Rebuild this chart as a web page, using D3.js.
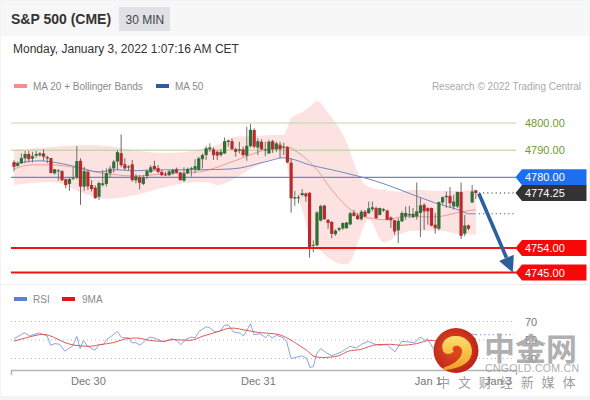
<!DOCTYPE html>
<html><head><meta charset="utf-8">
<script src="https://cdn.jsdelivr.net/npm/d3@7/dist/d3.min.js"></script>
<style>html,body{margin:0;padding:0;background:#fff}svg{display:block}text{font-family:"Liberation Sans",Arial,sans-serif}</style>
</head><body><svg id="c" width="590" height="400"></svg>
<script>
const title="S&P 500 (CME)", interval="30 MIN", stamp="Monday, January 3, 2022 1:07:16 AM CET", credit="Research © 2022 Trading Central";
const opens=[4785.6,4784.2,4785.2,4787,4788.6,4786.9,4788,4788.1,4788.8,4787,
4787.1,4781.5,4782.3,4782.3,4779.3,4777.6,4779.5,4780,4786.1,4776.6,
4782.1,4777.2,4776.2,4772.9,4777.2,4777.6,4781.5,4783.3,4785.8,4788.9,
4784.8,4783.7,4784.8,4778.9,4780,4777.6,4780.5,4781.9,4784.2,4783.4,
4782,4781.1,4780.8,4781.5,4783,4781.7,4778.8,4781.5,4783.2,4783,
4782.7,4786.7,4788.2,4790.3,4790.3,4789.4,4788.2,4788.8,4793,4793.3,
4790.4,4789.8,4790.3,4788,4791.5,4797.4,4791,4793.1,4789.9,4788.8,
4793.3,4790.3,4792,4791,4791.1,4785.4,4772.2,4772.3,4773.5,4774.1,
4774.3,4754.9,4755,4764.1,4769.6,4764.4,4763.6,4759.1,4760.7,4761.2,
4761.3,4762.7,4767,4766,4764.6,4767.4,4766.8,4768.3,4768.7,4766.2,
4767.8,4767.8,4765.3,4764.2,4760.5,4763.8,4765.6,4766,4765.4,4765.6,
4766.9,4769.9,4768.7,4768.7,4762.6,4761.1,4770.8,4772.7,4773.2,4769.3,
4769.3,4774.6,4759.3,4762.3,4770.8,4775.2];
const closes=[4783.9,4785.2,4787.1,4788.6,4786.7,4787.8,4788.6,4788.8,4787.6,4787.5,
4781.6,4783,4782.6,4778.9,4777.2,4779.4,4779.9,4786,4776.6,4782.3,
4776.7,4775.7,4772.4,4777.9,4777.8,4781.5,4783.2,4785.8,4789.3,4784.5,
4783.3,4784,4779,4780.4,4778,4780,4782.3,4783.7,4783.1,4782,
4780.8,4780.8,4782.2,4782.7,4781.7,4779,4781.5,4783.1,4783.4,4784.1,
4787,4788.2,4790.7,4791,4788.2,4788,4789.4,4793.3,4793.5,4790.4,
4789.4,4790.3,4788.2,4791.6,4797.5,4791.3,4793.3,4790.3,4790.3,4793.1,
4790.3,4792.5,4790.3,4791.3,4785.5,4772.3,4772.7,4772.7,4774.2,4773,
4754.4,4755.2,4767.1,4769.5,4764.6,4763.2,4759.2,4760.4,4761.3,4763.2,
4763.4,4766.8,4765.8,4764.6,4767.4,4765.6,4768.6,4769,4765,4768.7,
4768.3,4764.4,4764.2,4760.1,4764,4766.9,4766.9,4766.5,4766.6,4767.5,
4769.7,4767.5,4767.5,4762.2,4761.3,4770.9,4772.7,4773.2,4770.5,4771.1,
4774.6,4758.5,4762.3,4761.1,4774.8,4774.25];
const highs=[4786.3,4785.8,4788.8,4789.7,4789.7,4789.4,4789.7,4789.3,4790.3,4788,
4787.1,4783,4783,4782.7,4779.6,4780,4783.9,4791.5,4787,4783.9,
4782.7,4779,4777,4778.4,4782.7,4783.3,4784.2,4786.4,4790,4795.8,
4787,4784.5,4786.4,4781.2,4780.8,4780.8,4783,4784.5,4786.1,4784.5,
4782.7,4782.1,4782.7,4783.2,4783.6,4782.1,4783.7,4783.6,4783.9,4786.7,
4787.6,4788.8,4791.5,4792.5,4791,4790,4790.4,4794.7,4793.9,4794.3,
4790.9,4793.1,4791.3,4798.6,4799.6,4798,4794.3,4794,4793.1,4793.8,
4793.8,4793.1,4793.1,4792.7,4791.5,4787,4775,4773.5,4775.7,4774.4,
4774.6,4756.8,4767.5,4769.9,4769.9,4764.6,4763.9,4760.9,4761.7,4763.4,
4763.6,4767.4,4768,4766.8,4768,4768,4771.1,4771.1,4769.3,4768.9,
4768.7,4768.1,4765.6,4764.4,4765,4767.5,4769.3,4769.5,4768.7,4778.1,
4772.4,4770.5,4769,4768.9,4766.9,4771.1,4773,4774.8,4776.4,4773.6,
4774.8,4778.1,4766.2,4762.6,4777.2,4775.4];
const lows=[4782.3,4783.9,4784.9,4785.2,4785.6,4785.5,4787.2,4787.6,4786.1,4785.2,
4781.5,4781,4778.8,4778.7,4776,4775,4779,4779.3,4769.9,4775,
4775.4,4774.8,4772.1,4771.7,4776.6,4776.6,4780,4781.7,4782.7,4783.7,
4782.7,4782.7,4778.4,4777.8,4775.6,4777.2,4779.3,4781.5,4782.7,4781.5,
4780.5,4780.5,4780.5,4780.9,4781.5,4778.8,4778.4,4781.2,4780.3,4781.5,
4782.5,4783.3,4786.4,4789.4,4786.4,4786.4,4787.6,4788.6,4791.3,4790,
4787.6,4788.8,4787.6,4786.1,4791,4790.7,4788.2,4790,4787.8,4788.6,
4789,4789.4,4787.2,4788.2,4785.2,4767,4769.5,4770.5,4773,4771.1,
4750.5,4752.4,4754.6,4763.8,4764.4,4761.1,4757.6,4758.5,4760.1,4760.7,
4761.1,4762.4,4765.6,4764.4,4764.1,4765.3,4766.6,4767.5,4764.7,4766,
4767.3,4764.2,4761.4,4758.9,4755.8,4763.6,4764.4,4765,4765,4764.4,
4758,4760.7,4762.6,4762,4759.3,4760.5,4769.9,4768.7,4768.7,4768.1,
4768.7,4757.3,4758.3,4760.5,4770.5,4772];
const bandAt=[0,10,20,25,32,41,50,52,55,60,65,70,73,75,78,80,82,85,88,90,92,94,96,100,104,108,115,120,125];
const bandUpper=[4790.1,4791.2,4791.9,4791.6,4790.1,4789,4790.1,4790.8,4791.9,4794.9,4795.2,4795.6,4795.6,4801.8,4804,4805.9,4808.1,4803.7,4798.2,4793,4785.3,4779.1,4776.5,4775.4,4774.7,4775.4,4775,4775,4775.8];
const bandLower=[4777.2,4778.3,4773.6,4772.1,4773.2,4776.5,4778.3,4778.3,4777.2,4779.8,4783.9,4786.8,4787.2,4777.2,4768.1,4758.2,4754.5,4750.5,4748.3,4747.9,4751.6,4759.6,4764.4,4756,4758.9,4760.4,4760.4,4759.3,4758.9];
const ma20At=[0,5,10,17,23,28,32,41,50,59,68,74,77,82,86,92,96,101,105,114,121,125];
const ma20=[4783.1,4784.6,4784.6,4783.5,4781.7,4780.9,4780.5,4781.3,4782,4785.7,4790.1,4791.2,4789,4782.8,4775.4,4767.3,4765.1,4764.4,4765.5,4765.5,4767.3,4768.1];
const ma50At=[0,7,10,17,23,28,32,41,50,59,68,73,75,80,86,93,96,101,108,114,121,123,125];
const ma50=[4785,4786.1,4785.7,4783.9,4782,4782.8,4782.4,4782.8,4782.8,4783.1,4785.7,4787.2,4786.8,4784.6,4782.8,4780.5,4779.4,4777.2,4773.6,4770.6,4767.7,4766.6,4766.6];
const rsiAt=[0,1.6,2.8,4.2,5.5,6.9,8,9,9.9,11.1,12.3,13.8,15,15.9,17,17.9,18.8,19.8,21.9,23,24.2,25.1,26.4,28,29.1,31,32,33,34.1,35.6,36.8,38.6,40.4,42.7,44,45.2,46.7,48.1,49,50.1,52,53,54.4,55.7,56.9,58,59.4,61.2,62.1,64,65,66.6,68.1,68.8,69.9,71.1,72.9,73.8,75,77.9,79.2,80.1,81,81.9,83,84.6,86,88.7,90.9,92.7,94.1,95.9,97.3,98.6,100.9,103.1,104.9,108.5,109.9,111.2,111.9,113.5,117.1,120.7,123.9,125];
const rsi=[51.4,55,57.9,54.3,56.1,57.5,55.7,54.3,44.3,46.1,45.4,37.9,41.4,43.6,53.9,40.7,49.6,43.6,38.9,45,45,50.7,54.3,59.3,52.5,52.5,46.8,47.2,44.3,49.6,53.2,51.4,47.9,51.4,49.6,45,51.4,53.2,52.2,59.3,64.3,63.2,58.6,59.3,65.7,66.4,58.6,57.5,54.3,67.5,55.7,56.8,52.5,55.7,52.2,55,52.5,47.9,30,32.9,30,20.4,21.1,35.4,40.7,36.1,32.9,37.2,43.2,41.4,45.4,48.6,46.1,44.3,45,37.2,48.6,47.2,53.2,49.6,51.4,40.7,47.9,51.4,56.4,55.7];
const rsiMaAt=[0,3.4,8,10.6,13.8,16.5,20.6,23.3,26.9,30.5,33.2,36.8,40.4,43.1,47.6,51.2,54.8,58.9,63,66.6,71.1,73.8,77.4,79.2,81.5,83.7,87.8,90.5,93.7,98.2,101.8,104.5,109,112.6,117.1,123.9,125];
const rsiMa=[48.9,52.5,56.1,53.2,47.2,44.3,43.2,45,47.2,51.4,52.2,49.6,48.6,50.4,49.6,54.3,58.6,62.9,60.4,57.9,56.4,52.5,43.6,38.9,31.8,31.1,32.9,37.9,39.7,45,45.4,44.3,46.1,49.6,47.9,51.4,51.4];
const supportLevels=[4800,4790], pivotLevel=4780, lastPrice=4774.25, targets=[4754,4745];
const rsiTicks=[70,50,30];
const dayTicks=[20,66,112,131], dayLabels=["Dec 30","Dec 31","Jan 1","Jan 3"];
const arrowEndAt=135;
const legendTop=["MA 20 + Bollinger Bands","MA 50"], legendRsi=["RSI","9MA"];

const svg=d3.select("#c");
const x=d3.scaleLinear().domain([0,136]).range([14,516.5]);
const y=d3.scaleLinear().domain([4745,4800]).range([272.5,123]);
const ry=d3.scaleLinear().domain([30,70]).range([358.5,321.5]);
const txt=(px,py,s,size,fill,extra={})=>{const t=svg.append("text").attr("x",px).attr("y",py).attr("font-size",size).attr("fill",fill).text(s);for(const k in extra)t.attr(k,extra[k]);return t;};

// frame
svg.append("rect").attr("width",590).attr("height",400).attr("fill","#f3f4f5");
svg.append("rect").attr("x",1).attr("y",36).attr("width",588).attr("height",360).attr("fill","#fff");
svg.append("rect").attr("x",1).attr("y",1).attr("width",588).attr("height",35).attr("fill","#f7f7f7");
svg.append("rect").attr("x",119).attr("y",7).attr("width",51).attr("height",24).attr("fill","#dfe1e7");
txt(11,24,title,14,"#333",{"font-weight":"bold"});
txt(125.5,24,interval,12,"#444");
txt(13,53,stamp,12,"#333");
// legend
svg.append("rect").attr("x",14).attr("y",84).attr("width",13).attr("height",4).attr("fill","#f98b8b");
txt(33,90,legendTop[0],10,"#8a8a8a");
svg.append("rect").attr("x",156).attr("y",84).attr("width",13).attr("height",4).attr("fill","#2f5c9e");
txt(175,90,legendTop[1],10,"#8a8a8a");
txt(581,90,credit,10,"#a9a9a9",{"text-anchor":"end"});
svg.append("line").attr("x1",1).attr("x2",589).attr("y1",284.5).attr("y2",284.5).attr("stroke","#ececec");

// Bollinger band
const bandPts=bandAt.map((d,i)=>({i:d,u:bandUpper[i],l:bandLower[i]}));
svg.append("path").datum(bandPts).attr("fill","#fde2e2")
  .attr("d",d3.area().x(d=>x(d.i)).y0(d=>y(d.l)).y1(d=>y(d.u)).curve(d3.curveMonotoneX));

// levels
const lv=(v,c,w,end=516)=>svg.append("line").attr("x1",11).attr("x2",end).attr("y1",y(v)).attr("y2",y(v)).attr("stroke",c).attr("stroke-width",w);
supportLevels.forEach((v,i)=>{lv(v,i?"#aed08f":"#bcd9a0",1);txt(525,y(v)+4,v.toFixed(2),11,"#6f9a2e");});
lv(pivotLevel,"#5f8bd6",1.3);

// MAs
const line=d3.line().x(d=>x(d[0])).y(d=>y(d[1])).curve(d3.curveMonotoneX);
svg.append("path").attr("d",line(ma20At.map((d,i)=>[d,ma20[i]]))).attr("fill","none").attr("stroke","#f19a9a").attr("stroke-width",1);
svg.append("path").attr("d",line(ma50At.map((d,i)=>[d,ma50[i]]))).attr("fill","none").attr("stroke","#7389ba").attr("stroke-width",1);

// candles
const idx=d3.range(opens.length);
svg.append("g").selectAll("line").data(idx).join("line")
  .attr("x1",i=>x(i)).attr("x2",i=>x(i)).attr("y1",i=>y(highs[i])).attr("y2",i=>y(lows[i]))
  .attr("stroke",i=>closes[i]>=opens[i]?"#66756a":"#7a5f5f").attr("stroke-width",1);
svg.append("g").selectAll("rect").data(idx).join("rect")
  .attr("x",i=>x(i)-1.6).attr("width",3.2)
  .attr("y",i=>y(Math.max(opens[i],closes[i])))
  .attr("height",i=>Math.max(1,Math.abs(y(opens[i])-y(closes[i]))))
  .attr("fill",i=>closes[i]>=opens[i]?"#2f6e34":"#b82a2d");

// dotted extensions
const n=opens.length-1;
const dots=(x1,x2,yy,c)=>svg.append("line").attr("x1",x1).attr("x2",x2).attr("y1",yy).attr("y2",yy).attr("stroke",c).attr("stroke-dasharray","1.2,3");
dots(x(n)+3,516,y(lastPrice),"#333");
dots(x(n)+3,514,y(ma50[ma50.length-1]),"#556");

// red target lines
targets.forEach(v=>lv(v,"#f01414",2));

// flags
const flag=(v,c,tc)=>{const yy=y(v),h=8;
 svg.append("path").attr("fill",c).attr("d",`M515.5,${yy}L522,${yy-h}H586.5V${yy+h}H522Z`);
 txt(525,yy+4,v.toFixed(2),11,tc);};
flag(pivotLevel,"#1e6ff0","#fff");
flag(lastPrice,"#333333","#fff");
targets.forEach(v=>flag(v,"#f60808","#fff"));

// arrow
const ax=x(n)+3, ay=y(lastPrice)+0.5, bx=x(arrowEndAt), by=y(targets[1]);
const ang=Math.atan2(by-ay,bx-ax), hl=16, hw=8;
const mx=bx-hl*Math.cos(ang), my=by-hl*Math.sin(ang);
svg.append("line").attr("x1",ax).attr("y1",ay).attr("x2",mx).attr("y2",my).attr("stroke","#2b5f9e").attr("stroke-width",3.6);
svg.append("path").attr("fill","#2b5f9e").attr("d",`M${bx},${by}L${mx-hw*Math.sin(ang)},${my+hw*Math.cos(ang)}L${mx+hw*Math.sin(ang)},${my-hw*Math.cos(ang)}Z`);

// RSI panel
svg.append("rect").attr("x",14).attr("y",297).attr("width",13).attr("height",4).attr("fill","#5b7fd8");
txt(33,303,legendRsi[0],10,"#8a8a8a");
svg.append("rect").attr("x",62).attr("y",297).attr("width",13).attr("height",4).attr("fill","#ee1111");
txt(82,303,legendRsi[1],10,"#8a8a8a");
rsiTicks.forEach(v=>{
  svg.append("line").attr("x1",11).attr("x2",514).attr("y1",ry(v)).attr("y2",ry(v)).attr("stroke","#b5b5b5").attr("stroke-dasharray","1,3");
  txt(525,ry(v)+4,v,11,"#777");
});
const rl=d3.line().x(d=>x(d[0])).y(d=>ry(d[1]));
svg.append("path").attr("d",rl(rsiAt.map((d,i)=>[d,rsi[i]]))).attr("fill","none").attr("stroke","#8ea3dc").attr("stroke-width",1);
svg.append("path").attr("d",rl.curve(d3.curveMonotoneX)(rsiMaAt.map((d,i)=>[d,rsiMa[i]]))).attr("fill","none").attr("stroke","#dc5a5a").attr("stroke-width",1);
dots(x(n),514,ry(rsi[rsi.length-1]),"#5b7fd8");

// time axis
const ax2=svg.append("g").attr("transform","translate(0,370)")
  .call(d3.axisBottom(x).tickValues(dayTicks).tickFormat((d,i)=>dayLabels[i]).tickSize(0).tickPadding(7));
ax2.select(".domain").remove();
ax2.selectAll("text").attr("font-size",11).attr("fill","#777").attr("font-family",'"Liberation Sans",Arial,sans-serif');
svg.append("path").attr("fill","none").attr("stroke","#b5b5b5").attr("stroke-width",1.5).attr("d","M11.5,375V370.5H516.5V375");

// watermark
const defs=svg.append("defs");
const g1=defs.append("radialGradient").attr("id","lg").attr("cx","45%").attr("cy","45%").attr("r","60%");
g1.append("stop").attr("offset","0%").attr("stop-color","#e8521e");g1.append("stop").attr("offset","100%").attr("stop-color","#b9201a");
const g2=defs.append("linearGradient").attr("id","sw").attr("x1",0).attr("y1",0).attr("x2",0).attr("y2",1);
g2.append("stop").attr("offset","0%").attr("stop-color","#ffdf70");g2.append("stop").attr("offset","100%").attr("stop-color","#f0a020");
svg.append("circle").attr("cx",456).attr("cy",350.5).attr("r",22.5).attr("fill","url(#lg)");
svg.append("path").attr("fill","url(#sw)").attr("d","M443,351C440,343 446,336 455,336C464,335 472,342 472,351C472,361 463,368 446,370C443,370 442,368 445,367C455,364 462,358 462,351C462,347 458,345 455,346C452,347 452,350 454,351C451,355 445,355 443,351Z");
svg.append("circle").attr("cx",456).attr("cy",350).attr("r",2.4).attr("fill","#d8431c");
const wm='"Noto Sans CJK SC",sans-serif';
txt(484,360,"中金网",31,"#a3a3a3",{"font-weight":"bold","opacity":0.85,"style":"font-family:"+wm});
txt(485,372,"CNGOLD.COM.CN",10.5,"#9a9a9a",{"opacity":0.8,"letter-spacing":"0.3"});
txt(437,387,"中 文 财 经 新 媒 体",13,"#8f8f8f",{"opacity":0.85,"style":"font-family:"+wm+";word-spacing:5px"});
</script></body></html>
